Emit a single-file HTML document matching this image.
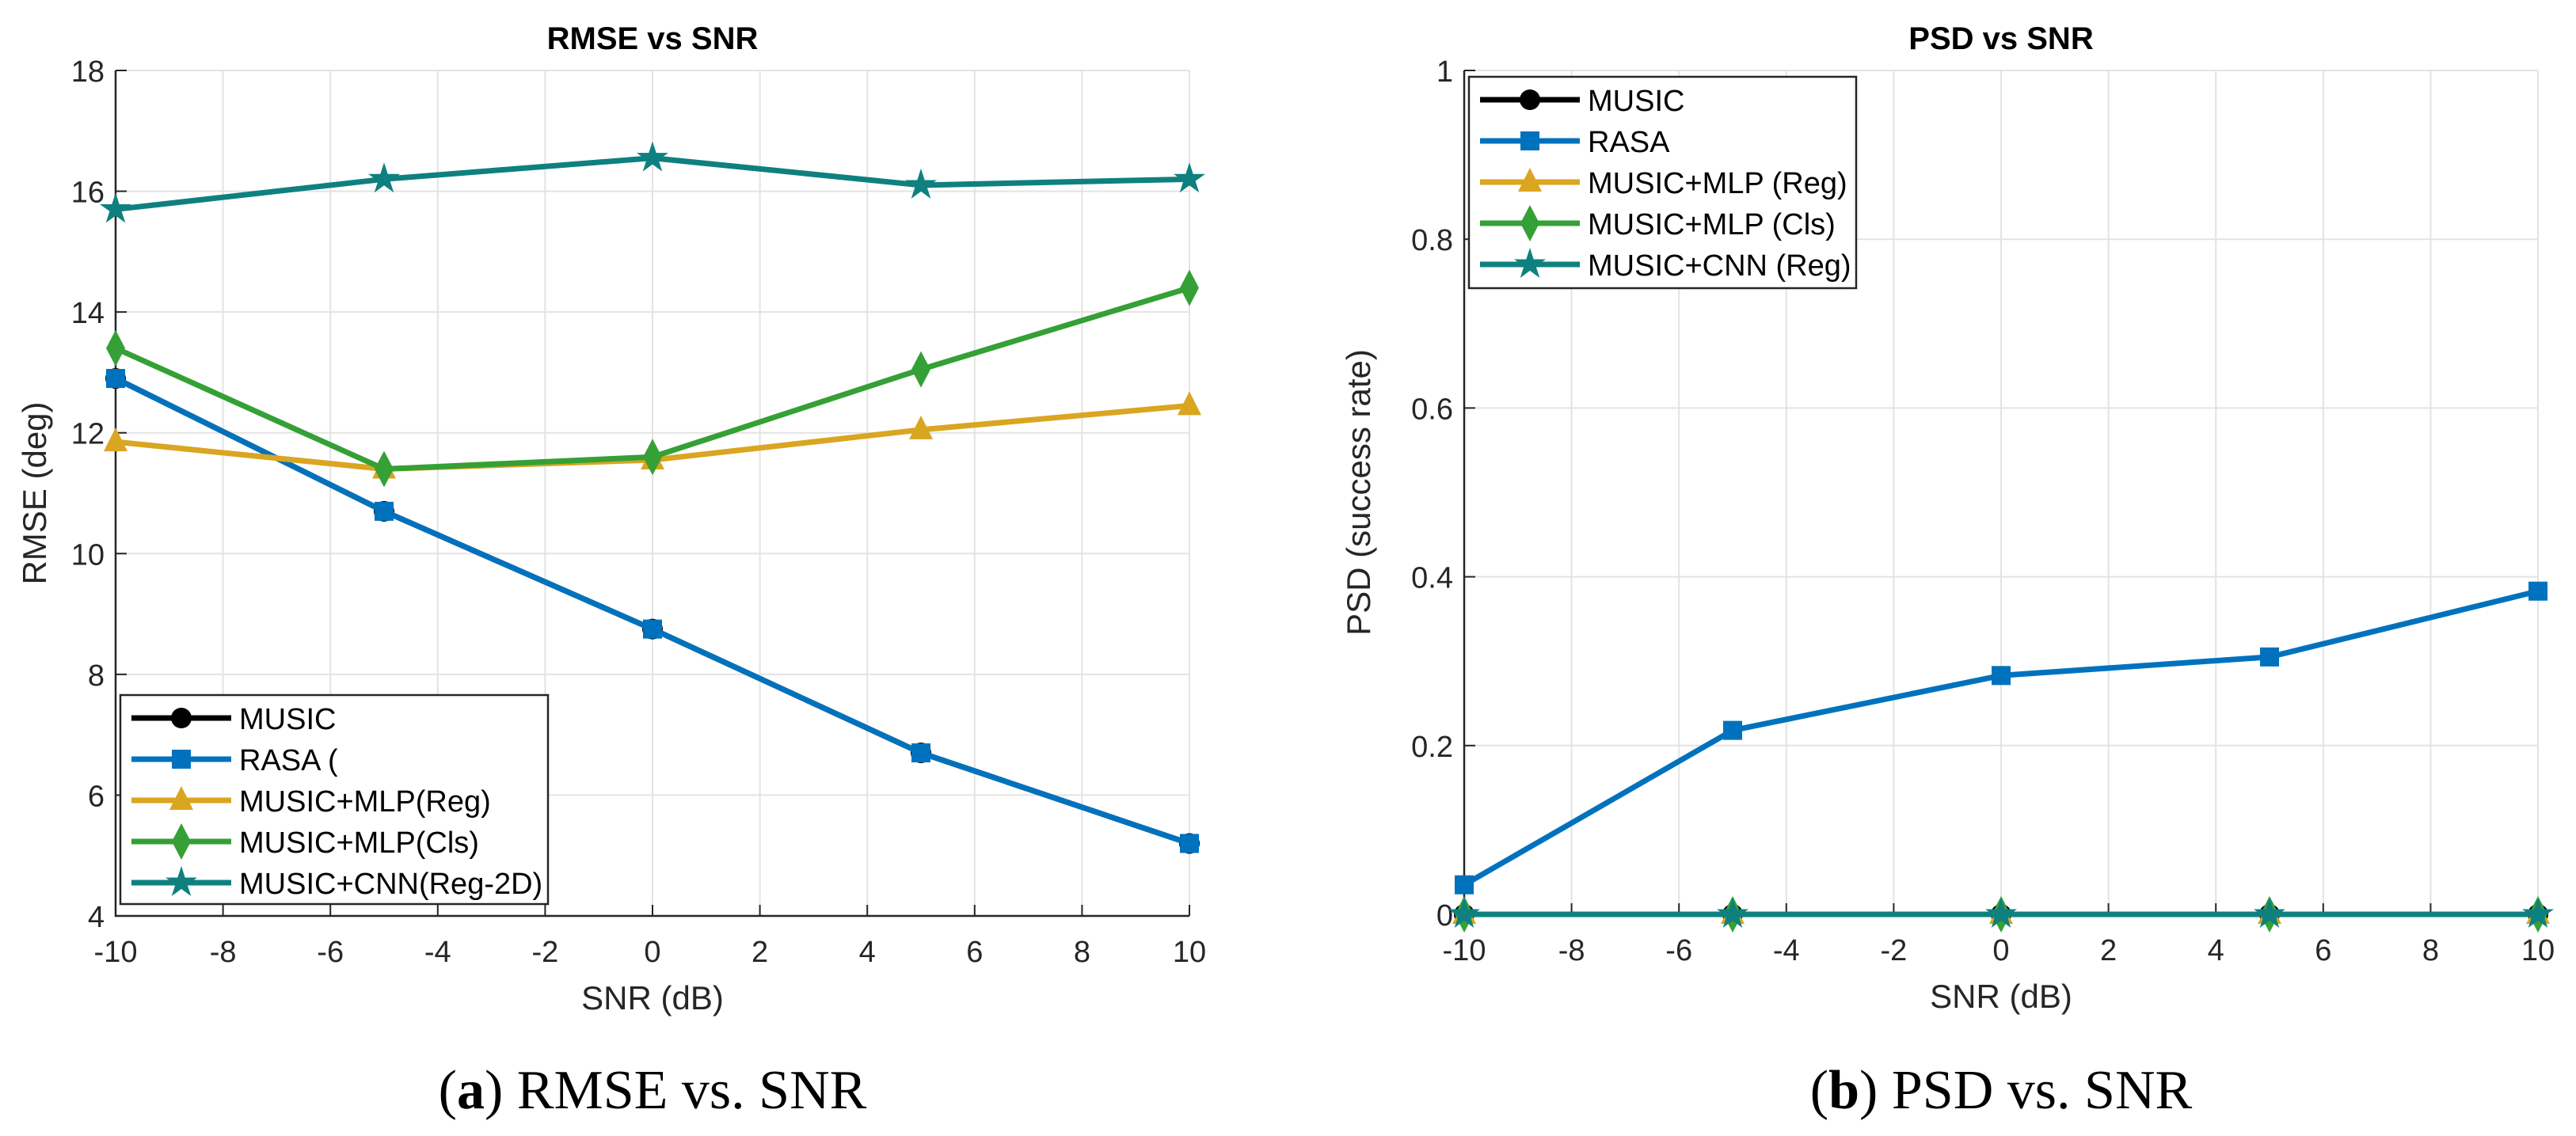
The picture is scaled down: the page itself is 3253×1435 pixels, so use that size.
<!DOCTYPE html>
<html><head><meta charset="utf-8"><style>
html,body{margin:0;padding:0;background:#fff;}
svg{display:block;}
text{font-family:"Liberation Sans",sans-serif;}
</style></head><body>
<svg id="fig" width="3253" height="1435" viewBox="0 0 3253 1435" xmlns="http://www.w3.org/2000/svg"></svg>
<script>
// ---- data ----
const snr = [-10, -5, 0, 5, 10];
const xTicks = [-10,-8,-6,-4,-2,0,2,4,6,8,10];
const rmseTicks = [4,6,8,10,12,14,16,18];
const psdTicks = [0,0.2,0.4,0.6,0.8,1];
const psdTickLabels = ["0","0.2","0.4","0.6","0.8","1"];
const rmseMusic = [12.9, 10.7, 8.75, 6.7, 5.2];
const rmseRasa = [12.9, 10.7, 8.75, 6.7, 5.2];
const rmseMlpReg = [11.85, 11.4, 11.55, 12.05, 12.45];
const rmseMlpCls = [13.4, 11.4, 11.6, 13.05, 14.4];
const rmseCnn = [15.7, 16.2, 16.55, 16.1, 16.2];
const psdMusic = [0, 0, 0, 0, 0];
const psdRasa = [0.035, 0.218, 0.283, 0.305, 0.383];
const psdMlpReg = [0, 0, 0, 0, 0];
const psdMlpCls = [0, 0, 0, 0, 0];
const psdCnn = [0, 0, 0, 0, 0];
const legendA = ["MUSIC","RASA (","MUSIC+MLP(Reg)","MUSIC+MLP(Cls)","MUSIC+CNN(Reg-2D)"];
const legendB = ["MUSIC","RASA","MUSIC+MLP (Reg)","MUSIC+MLP (Cls)","MUSIC+CNN (Reg)"];

const NS="http://www.w3.org/2000/svg";
const svg=document.getElementById('fig');
function el(tag,attrs,parent){const e=document.createElementNS(NS,tag);for(const k in attrs)e.setAttribute(k,attrs[k]);(parent||svg).appendChild(e);return e;}
const colors=["#000000","#0072BD","#DAA520","#35A035","#0F8080"];
const markers=["circle","square","triangle","diamond","star"];

function marker(type,cx,cy,col,g){
  let m;
  if(type==="circle") m=el('circle',{cx:cx,cy:cy,r:13,fill:col},g);
  else if(type==="square") m=el('rect',{x:cx-12,y:cy-12,width:24,height:24,fill:col},g);
  else if(type==="triangle") m=el('polygon',{points:`${cx},${cy-18} ${cx-15},${cy+12} ${cx+15},${cy+12}`,fill:col},g);
  else if(type==="diamond") m=el('polygon',{points:`${cx},${cy-23} ${cx-12},${cy} ${cx},${cy+23} ${cx+12},${cy}`,fill:col},g);
  else { let p=[];for(let i=0;i<10;i++){const r=i%2?8:21;const a=-Math.PI/2+i*Math.PI/5;p.push((cx+r*Math.cos(a)).toFixed(1)+","+(cy+r*Math.sin(a)).toFixed(1));}
    m=el('polygon',{points:p.join(' '),fill:col},g);}
  return m;
}

function panel(cfg){
  const {x0,x1,y0,y1,ymin,ymax,yt,ytl,series,title,ylab,caption,leg,legLabels,name}=cfg;
  const g=el('g',{});
  
  
  const sx=v=>x0+(v-(-10))/20*(x1-x0);
  const sy=v=>y1-(v-ymin)/(ymax-ymin)*(y1-y0);
  xTicks.forEach(t=>{const l=el('line',{x1:sx(t),x2:sx(t),y1:y0,y2:y1,stroke:"#e3e3e3","stroke-width":2},g);
    });
  yt.forEach(t=>{const l=el('line',{x1:x0,x2:x1,y1:sy(t),y2:sy(t),stroke:"#e3e3e3","stroke-width":2},g);
    });
  const ax=el('path',{d:`M${x0},${y0} V${y1} H${x1}`,stroke:"#262626","stroke-width":2.5,fill:"none"},g);
  
  xTicks.forEach(t=>{el('line',{x1:sx(t),x2:sx(t),y1:y1,y2:y1-14,stroke:"#262626","stroke-width":2},g);
    const tx=el('text',{x:sx(t),y:y1+58,"font-size":38,"text-anchor":"middle",fill:"#262626"},g);tx.textContent=t;
    });
  yt.forEach((t,i)=>{el('line',{x1:x0,x2:x0+14,y1:sy(t),y2:sy(t),stroke:"#262626","stroke-width":2},g);
    const tx=el('text',{x:x0-14,y:sy(t)+14,"font-size":38,"text-anchor":"end",fill:"#262626"},g);tx.textContent=ytl[i];
    });
  series.forEach((s,i)=>{
    const sg=el('g',{},g);
    
    
    el('polyline',{points:s.map((v,j)=>sx(snr[j])+","+sy(v)).join(' '),fill:"none",stroke:colors[i],"stroke-width":7,"stroke-linejoin":"round"},sg);
    s.forEach((v,j)=>{const m=marker(markers[i],sx(snr[j]),sy(v),colors[i],sg);
      });
  });
  const tt=el('text',{x:(x0+x1)/2,y:62,"font-size":40,"font-weight":"bold","text-anchor":"middle",fill:"#000"},g);
  tt.textContent=title;
  const xl=el('text',{x:(x0+x1)/2,y:y1+118,"font-size":42,"text-anchor":"middle",fill:"#262626"},g);
  xl.textContent="SNR (dB)";
  const yl=el('text',{x:cfg.ylx,y:(y0+y1)/2,"font-size":42,"text-anchor":"middle",fill:"#262626",transform:`rotate(-90 ${cfg.ylx} ${(y0+y1)/2})`},g);
  yl.textContent=ylab;
  const cp=el('text',{x:(x0+x1)/2,y:1400,"font-size":70,"text-anchor":"middle",fill:"#000",style:'font-family:"Liberation Serif",serif'},g);
  
  cp.innerHTML=`(<tspan font-weight="bold">${caption[0]}</tspan>) ${caption[1]}`;
  const lg=el('g',{},g);
  el('rect',{x:leg.x,y:leg.y,width:leg.w,height:leg.h,fill:"#fff",stroke:"#262626","stroke-width":2.5},lg);
  legLabels.forEach((lab,i)=>{
    const cy=leg.y+29+i*52;
    const e=el('g',{},lg);
    el('line',{x1:leg.x+14,x2:leg.x+140,y1:cy,y2:cy,stroke:colors[i],"stroke-width":7},e);
    marker(markers[i],leg.x+77,cy,colors[i],e);
    const t=el('text',{x:leg.x+150,y:cy+14,"font-size":38,fill:"#000"},e);t.textContent=lab;
  });
}
panel({name:'rmse-panel',x0:146,x1:1502,y0:89,y1:1157,ymin:4,ymax:18,yt:rmseTicks,ytl:rmseTicks.map(String),
  series:[rmseMusic,rmseRasa,rmseMlpReg,rmseMlpCls,rmseCnn],title:"RMSE vs SNR",ylab:"RMSE (deg)",ylx:58,
  caption:["a","RMSE vs. SNR"],leg:{x:152,y:878,w:540,h:264},legLabels:legendA});
panel({name:'psd-panel',x0:1849,x1:3205,y0:89,y1:1155,ymin:0,ymax:1,yt:psdTicks,ytl:psdTickLabels,
  series:[psdMusic,psdRasa,psdMlpReg,psdMlpCls,psdCnn],title:"PSD vs SNR",ylab:"PSD (success rate)",ylx:1730,
  caption:["b","PSD vs. SNR"],leg:{x:1855,y:97,w:489,h:267},legLabels:legendB});
</script>
</body></html>
